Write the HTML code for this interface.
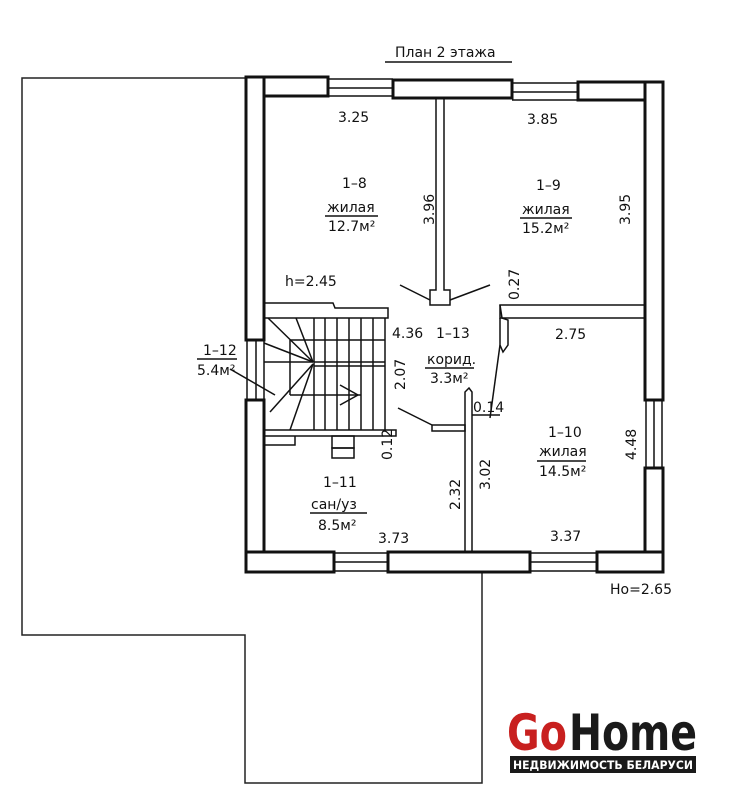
<!DOCTYPE html>
<html><head><meta charset="utf-8"><style>
body{margin:0;background:#fff}
svg{display:block}
text{font-family:"DejaVu Sans","Liberation Sans",sans-serif;fill:#111}
</style></head><body>
<svg width="742" height="800" viewBox="0 0 742 800" xmlns="http://www.w3.org/2000/svg">
<g fill="none" stroke="#222" stroke-width="1.5">
<polyline points="246,78 22,78 22,635 245,635 245,783 482,783 482,572"/>
</g>
<g fill="#fff" stroke="#111" stroke-width="3">
<rect x="246" y="77" width="82" height="19"/>
<rect x="393" y="80" width="119" height="18"/>
<rect x="578" y="82" width="85" height="18"/>
<rect x="246" y="77" width="18" height="263"/>
<rect x="246" y="400" width="18" height="172"/>
<rect x="645" y="82" width="18" height="318"/>
<rect x="645" y="468" width="18" height="104"/>
<rect x="246" y="552" width="88" height="20"/>
<rect x="388" y="552" width="142" height="20"/>
<rect x="597" y="552" width="66" height="20"/>
</g>
<g stroke="#111" stroke-width="1.5" fill="none">
<line x1="328" y1="79" x2="393" y2="79"/><line x1="328" y1="88" x2="393" y2="88"/><line x1="328" y1="96" x2="393" y2="96"/>
<line x1="512" y1="83" x2="578" y2="83"/><line x1="512" y1="92" x2="578" y2="92"/><line x1="512" y1="100" x2="578" y2="100"/>
<line x1="247" y1="340" x2="247" y2="400"/><line x1="256" y1="340" x2="256" y2="400"/><line x1="264" y1="340" x2="264" y2="400"/>
<line x1="646" y1="400" x2="646" y2="468"/><line x1="654" y1="400" x2="654" y2="468"/><line x1="662" y1="400" x2="662" y2="468"/>
<line x1="334" y1="553" x2="388" y2="553"/><line x1="334" y1="562" x2="388" y2="562"/><line x1="334" y1="571" x2="388" y2="571"/>
<line x1="530" y1="553" x2="597" y2="553"/><line x1="530" y1="562" x2="597" y2="562"/><line x1="530" y1="571" x2="597" y2="571"/>
<polyline points="436,98 436,290 430,290 430,305 450,305 450,290 444,290 444,98"/>
<line x1="400" y1="285" x2="430" y2="300"/><line x1="450" y1="300" x2="490" y2="285"/>
<polyline points="645,305 500,305 500,318 645,318"/>
<polyline points="500,305 502,318 508,320 508,345 503,352 500,345 500,318"/>
<polyline points="465,552 465,392 469,388 472,392 472,552"/>
<line x1="472" y1="415" x2="500" y2="415"/>
<line x1="500" y1="345" x2="490" y2="418"/>
<polyline points="264,303 333,303 335,308 388,308 388,318 264,318"/>
<line x1="385" y1="318" x2="385" y2="430"/>
<rect x="264" y="430" width="132" height="6"/>
<polyline points="264,445 295,445 295,436"/>
<rect x="332" y="436" width="22" height="12"/><rect x="332" y="448" width="22" height="10"/>
<line x1="314" y1="318" x2="314" y2="430"/>
<line x1="325" y1="318" x2="325" y2="430"/>
<line x1="337" y1="318" x2="337" y2="430"/>
<line x1="349" y1="318" x2="349" y2="430"/>
<line x1="361" y1="318" x2="361" y2="430"/>
<line x1="373" y1="318" x2="373" y2="430"/>
<line x1="290" y1="340" x2="385" y2="340"/>
<line x1="314" y1="362" x2="385" y2="362"/>
<line x1="314" y1="366" x2="385" y2="366"/>
<line x1="290" y1="395" x2="361" y2="395"/>
<line x1="290" y1="340" x2="290" y2="395"/>
<line x1="268" y1="318" x2="313" y2="362"/>
<line x1="296" y1="318" x2="313" y2="362"/>
<line x1="264" y1="343" x2="313" y2="362"/>
<line x1="264" y1="362" x2="313" y2="362"/>
<line x1="270" y1="412" x2="313" y2="364"/>
<line x1="290" y1="430" x2="313" y2="364"/>
<line x1="230" y1="369" x2="275" y2="395"/>
<line x1="340" y1="385" x2="358" y2="395"/><line x1="340" y1="405" x2="358" y2="395"/>
<line x1="398" y1="408" x2="432" y2="425"/>
<polyline points="432,425 465,425 465,431 432,431 432,425"/>
<line x1="385" y1="62" x2="512" y2="62"/>
<line x1="325" y1="216" x2="378" y2="216"/>
<line x1="520" y1="218" x2="572" y2="218"/>
<line x1="425" y1="368" x2="474" y2="368"/>
<line x1="197" y1="359" x2="237" y2="359"/>
<line x1="310" y1="513" x2="367" y2="513"/>
<line x1="537" y1="461" x2="586" y2="461"/>
</g>
<g font-size="14">
<text x="395" y="57" font-size="14">План 2 этажа</text>
<text x="338" y="122">3.25</text>
<text x="527" y="124">3.85</text>
<text x="342" y="188">1–8</text>
<text x="327" y="212">жилая</text>
<text x="328" y="231">12.7м²</text>
<text x="536" y="190">1–9</text>
<text x="522" y="214">жилая</text>
<text x="522" y="233">15.2м²</text>
<text x="285" y="286">h=2.45</text>
<text x="392" y="338">4.36</text>
<text x="436" y="338">1–13</text>
<text x="427" y="364">корид.</text>
<text x="430" y="383">3.3м²</text>
<text x="555" y="339">2.75</text>
<text x="203" y="355">1–12</text>
<text x="197" y="375">5.4м²</text>
<text x="473" y="412">0.14</text>
<text x="548" y="437">1–10</text>
<text x="539" y="456">жилая</text>
<text x="539" y="476">14.5м²</text>
<text x="323" y="487">1–11</text>
<text x="311" y="509">сан/уз</text>
<text x="318" y="530">8.5м²</text>
<text x="378" y="543">3.73</text>
<text x="550" y="541">3.37</text>
<text x="610" y="594">Hо=2.65</text>
<text transform="translate(434,225) rotate(-90)">3.96</text>
<text transform="translate(630,225) rotate(-90)">3.95</text>
<text transform="translate(519,300) rotate(-90)">0.27</text>
<text transform="translate(405,390) rotate(-90)">2.07</text>
<text transform="translate(392,460) rotate(-90)">0.12</text>
<text transform="translate(460,510) rotate(-90)">2.32</text>
<text transform="translate(490,490) rotate(-90)">3.02</text>
<text transform="translate(636,460) rotate(-90)">4.48</text>
</g>
<text x="507" y="750" font-family="Liberation Sans,sans-serif" font-weight="bold" font-size="50" textLength="60" lengthAdjust="spacingAndGlyphs" style="fill:#c8201f">Go</text>
<text x="569" y="750" font-family="Liberation Sans,sans-serif" font-weight="bold" font-size="50" textLength="128" lengthAdjust="spacingAndGlyphs" style="fill:#1a1a1a">Home</text>
<rect x="510" y="756" width="186" height="17" fill="#1a1a1a"/>
<text x="513" y="769" font-family="Liberation Sans,sans-serif" font-weight="bold" font-size="11.5" textLength="180" lengthAdjust="spacingAndGlyphs" style="fill:#fff">НЕДВИЖИМОСТЬ БЕЛАРУСИ</text>
</svg>
</body></html>
